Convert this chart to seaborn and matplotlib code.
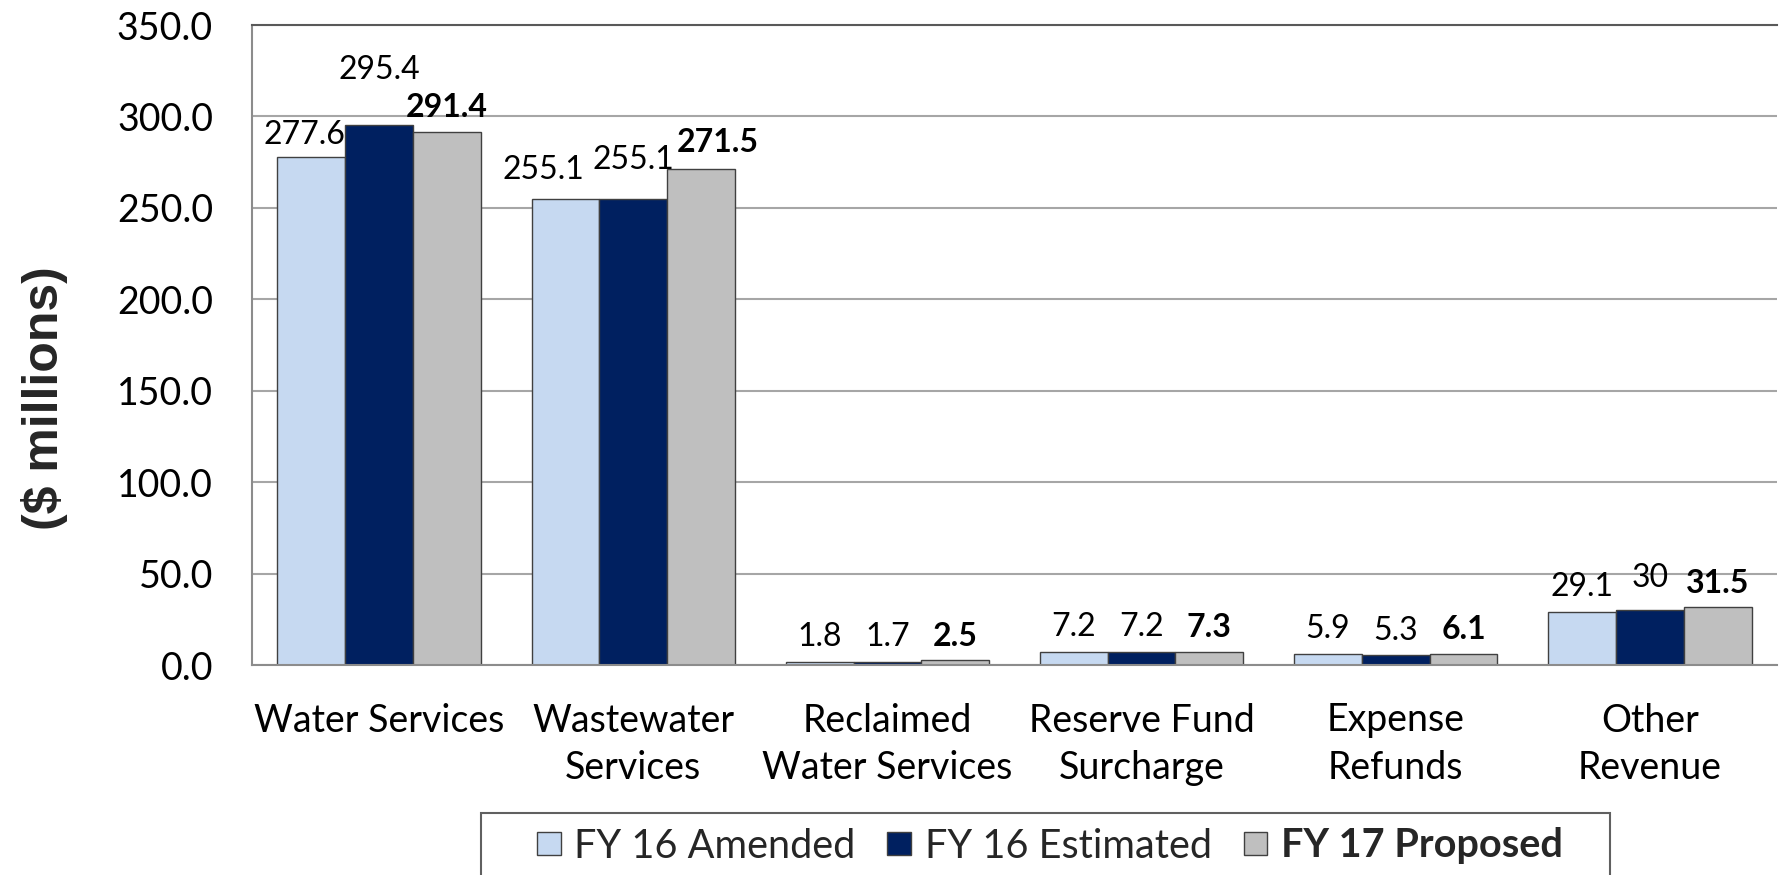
import matplotlib
matplotlib.use("Agg")
import matplotlib.pyplot as plt
import pandas as pd
import seaborn as sns
from matplotlib.patches import Patch, Rectangle
from matplotlib.ticker import FormatStrFormatter

# data ($ millions)
categories = ['Water Services', 'Wastewater\nServices', 'Reclaimed\nWater Services',
              'Reserve Fund\nSurcharge', 'Expense\nRefunds', 'Other\nRevenue']
series = ['FY 16 Amended', 'FY 16 Estimated', 'FY 17 Proposed']
fy16_amended = [277.6, 255.1, 1.8, 7.2, 5.9, 29.1]
fy16_estimated = [295.4, 255.1, 1.7, 7.2, 5.3, 30]
fy17_proposed = [291.4, 271.5, 2.5, 7.3, 6.1, 31.5]
y_ticks = [0, 50, 100, 150, 200, 250, 300, 350]

colors = ['#C6D9F1', '#002060', '#BFBFBF']

# long table for seaborn
df = pd.DataFrame({
    'category': categories * 3,
    'series': [s for s in series for _ in categories],
    'value': fy16_amended + fy16_estimated + fy17_proposed,
})

sns.set_style('white')
plt.rcParams['font.family'] = ['Lato', 'DejaVu Sans']

W, H = 1780, 875
fig, ax = plt.subplots(figsize=(W / 100, H / 100), dpi=100)
fig.subplots_adjust(left=252 / W, right=1777 / W, top=1 - 25 / H, bottom=1 - 665 / H)

sns.barplot(data=df, x='category', y='value', hue='series', order=categories,
            hue_order=series, palette=colors, saturation=1, width=0.8,
            edgecolor='#404040', linewidth=1.0, legend=False, ax=ax)

# label nudges (points) where Excel moved labels apart: (series, category) -> (dx, dy)
nudges = {(0, 0): (-5, 5), (1, 0): (0, 29), (1, 5): (0, 12),
          (0, 1): (-16, 10), (1, 1): (0, 17), (2, 1): (12, 8)}

# data labels, FY 17 in bold
for i, cont in enumerate(ax.containers):
    vals = [fy16_amended, fy16_estimated, fy17_proposed][i]
    texts = ax.bar_label(cont, labels=[f'{v:g}' for v in vals], padding=7,
                         fontsize=23, color='black',
                         fontweight='bold' if i == 2 else 'normal')
    for j, t in enumerate(texts):
        t.xyann = nudges.get((i, j), (0, 7))

ax.set_ylim(0, 350)
ax.set_yticks(y_ticks)
ax.yaxis.set_major_formatter(FormatStrFormatter('%.1f'))
ax.set_xlim(-0.5, len(categories) - 0.5)
ax.set_xlabel('')
ax.set_ylabel('')

ax.grid(axis='y', color='#A6A6A6', linewidth=1.5)
ax.set_axisbelow(True)

for side in ['left', 'bottom']:
    ax.spines[side].set_color('#8C8C8C')
    ax.spines[side].set_linewidth(1.5)
ax.spines['top'].set_color('#595959')
ax.spines['top'].set_linewidth(1.5)
ax.spines['right'].set_visible(False)

ax.tick_params(axis='y', length=9.4, width=1.5, color='#8C8C8C', pad=18.7,
               labelsize=27, labelcolor='black')
ax.tick_params(axis='x', which='major', length=0, pad=27, labelsize=27,
               labelcolor='black')
for lab in ax.get_xticklabels():
    lab.set_linespacing(1.4)
ax.set_xticks([k - 0.5 for k in range(len(categories) + 1)], minor=True)
ax.tick_params(axis='x', which='minor', length=10, width=1.5, color='#8C8C8C')

ax.text(44 / W, 1 - 398 / H, '($ millions)', transform=fig.transFigure,
        rotation=90, ha='center', va='center', fontsize=36, fontweight='bold',
        family='Liberation Sans')

# legend in a box running off the bottom edge
handles = [Patch(facecolor=c, edgecolor='#404040', linewidth=1.0) for c in colors]
leg = fig.legend(handles, series, loc='center', ncol=3,
                 bbox_to_anchor=(1050 / W, 1 - 846 / H), frameon=False,
                 fontsize=28.5, handlelength=0.6, handleheight=0.55,
                 handletextpad=0.35, columnspacing=0.8)
leg.get_texts()[2].set_fontweight('bold')
fig.patches.append(Rectangle((481 / W, -0.02), (1610 - 481) / W, 0.02 + 1 - 813 / H,
                             transform=fig.transFigure, fill=False,
                             edgecolor='#606060', linewidth=1.5))

fig.savefig('out.png', dpi=100)
